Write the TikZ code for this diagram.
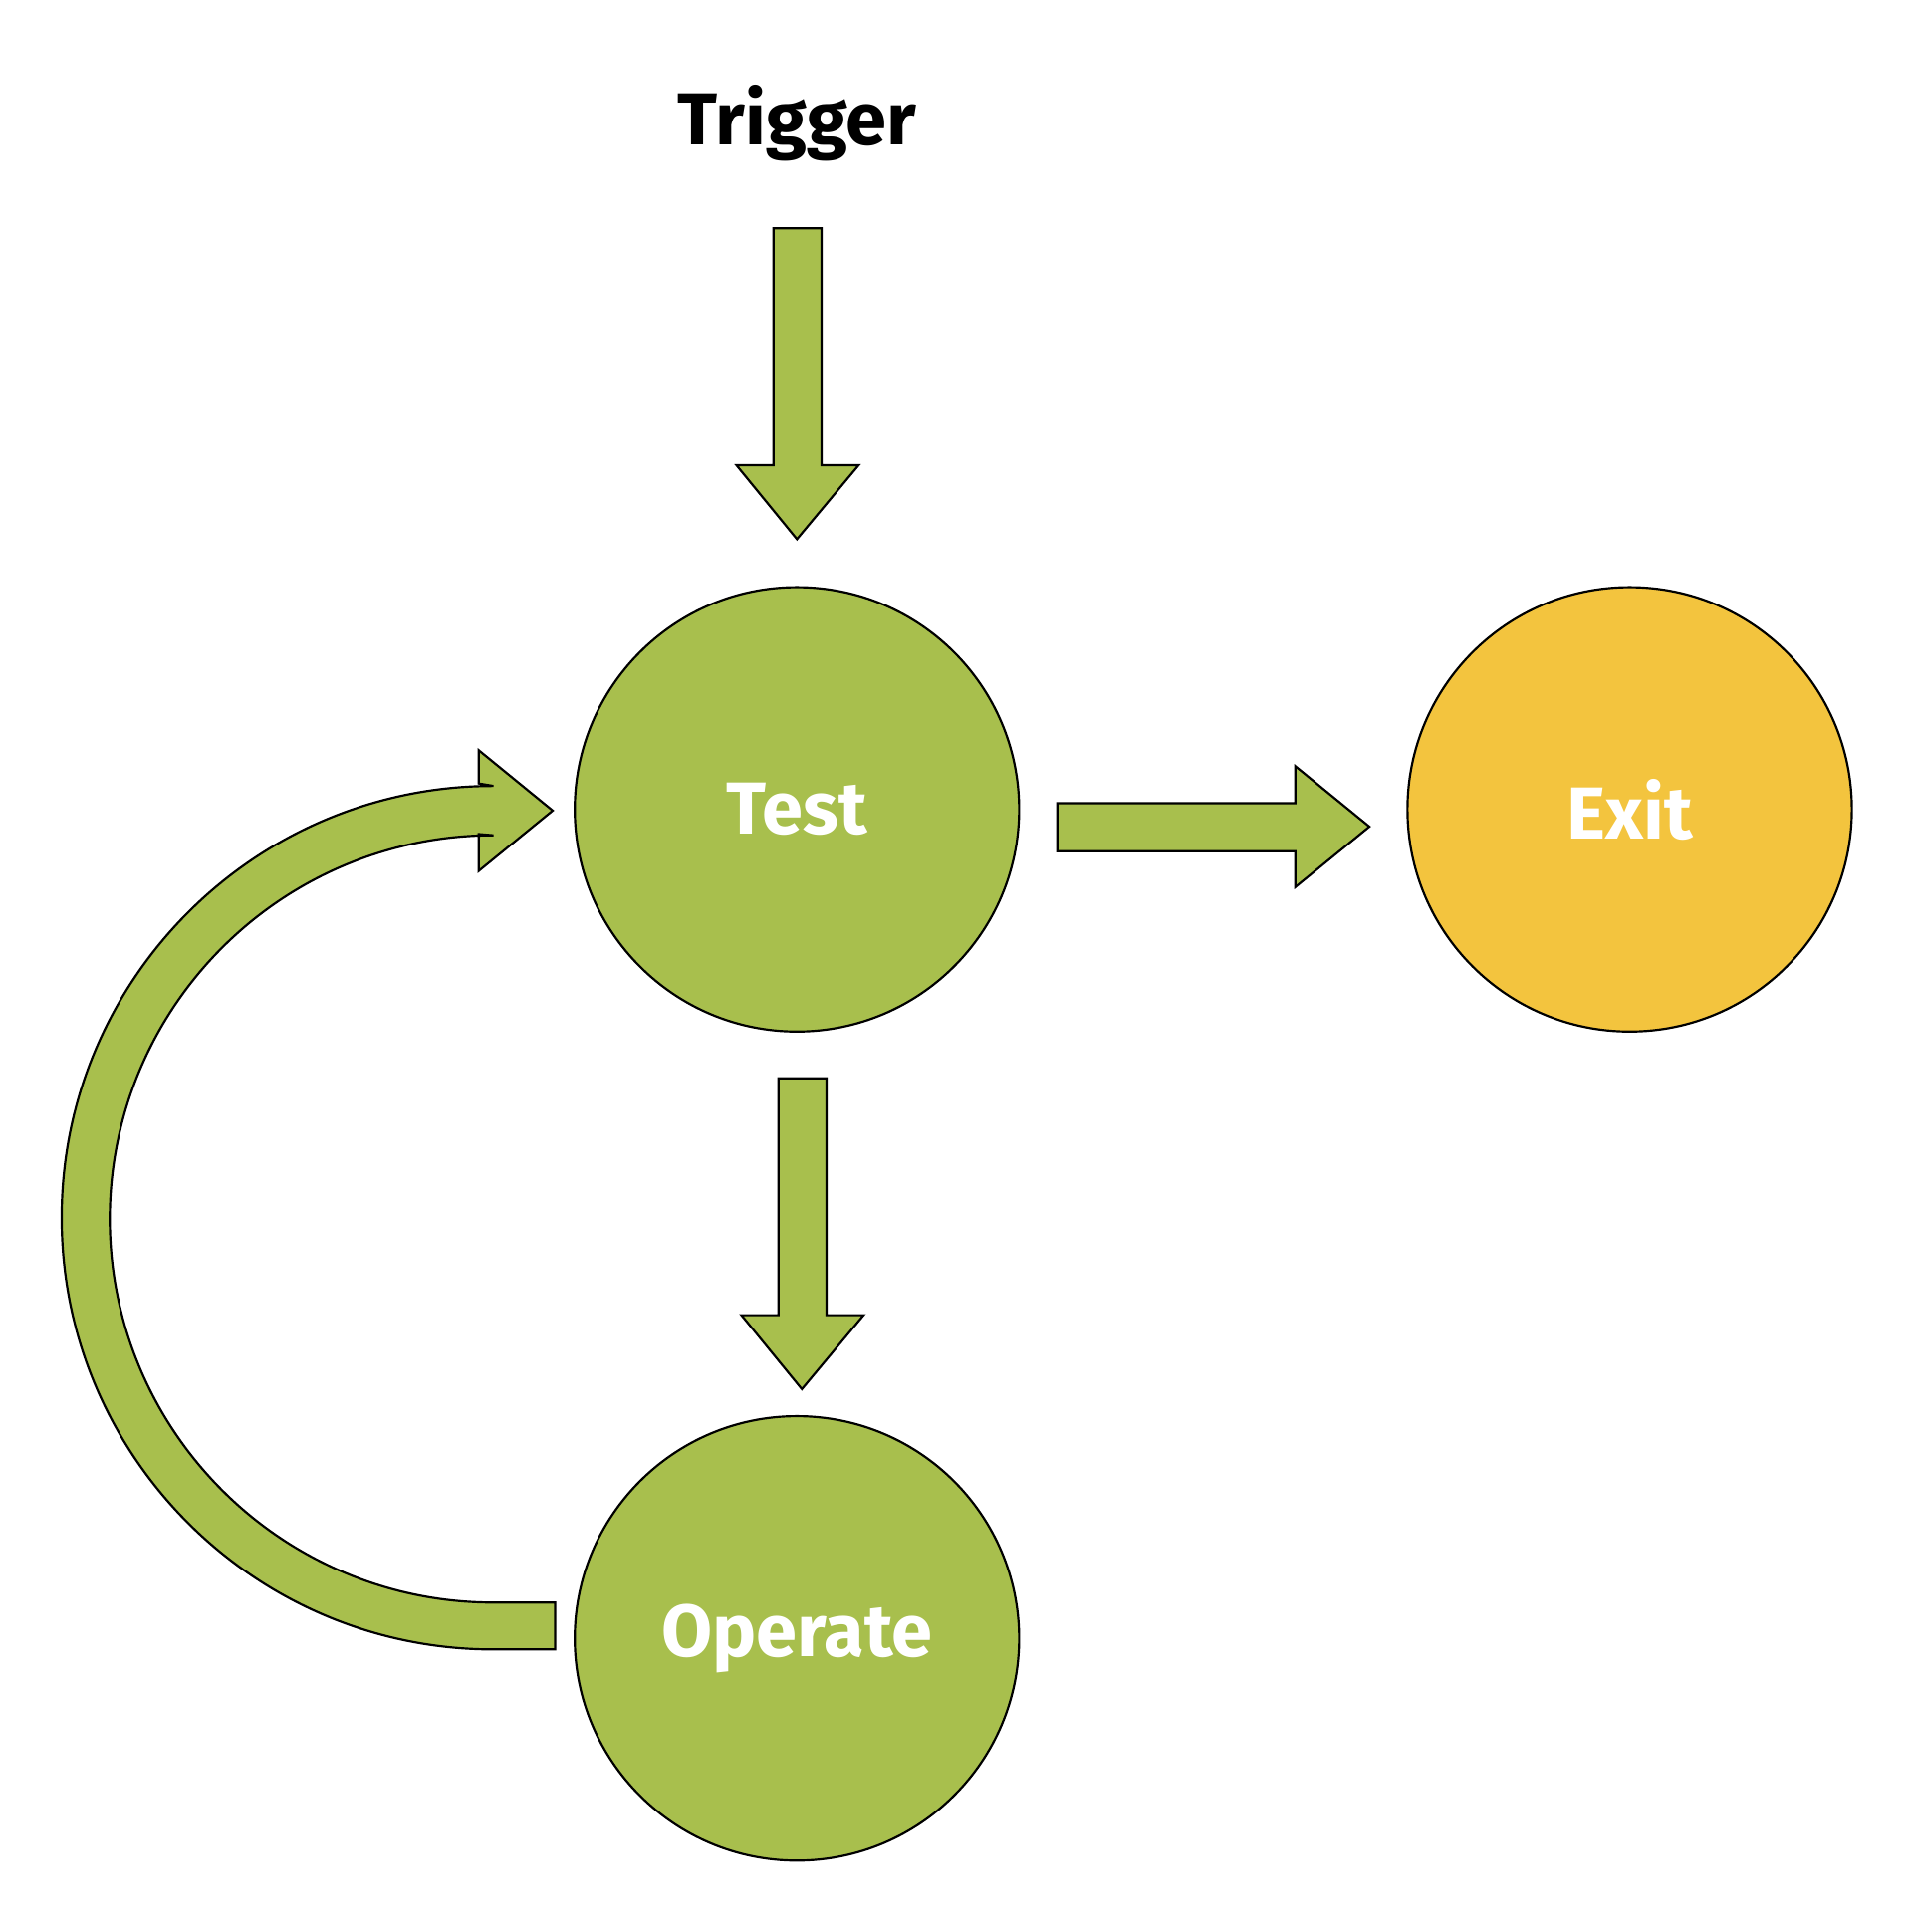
\documentclass[tikz,border=0pt]{standalone}
\usepackage{fontspec}
\setmainfont{Fira Sans}
\definecolor{grn}{HTML}{A8BF4D}
\definecolor{ylw}{HTML}{F3C43E}
\begin{document}
\begin{tikzpicture}[x=0.01cm,y=-0.01cm,
  blk/.style={fill=grn,draw=black,line width=0.5pt,line join=miter},
  circ/.style={circle,draw=black,line width=0.5pt,minimum size=360\pgflinewidth*0+3.6cm,inner sep=0pt,font=\fontsize{17}{20}\selectfont\bfseries,text=white},
  lbl/.style={font=\fontsize{17}{20}\selectfont\bfseries}]
\useasboundingbox (0,0) rectangle (1550,1566);
\node[lbl] (trig) at (646,100) {Trigger};
\node[circ,fill=grn] (test) at (646,656) {Test};
\node[circ,fill=ylw] (exit) at (1321,656) {Exit};
\node[circ,fill=grn] (op) at (646,1328) {Operate};
% top arrow
\draw[blk] (627,185) -- (666,185) -- (666,377) -- (696,377) -- (646,437) -- (597,377) -- (627,377) -- cycle;
% down arrow
\draw[blk] (631,874) -- (670,874) -- (670,1066) -- (700,1066) -- (650,1126) -- (601,1066) -- (631,1066) -- cycle;
% right arrow
\draw[blk] (857,651) -- (1050,651) -- (1050,621) -- (1110,670) -- (1050,719) -- (1050,690) -- (857,690) -- cycle;
% curved arrow
\draw[blk] (450,1299) -- (400,1299) arc[start angle=90,end angle=270,radius=311]
  -- (388,676) -- (388,706) -- (448,657) -- (388,608) -- (388,635)
  -- (400,637) arc[start angle=270,end angle=90,radius=350] -- (450,1337) -- cycle;
\end{tikzpicture}
\end{document}
